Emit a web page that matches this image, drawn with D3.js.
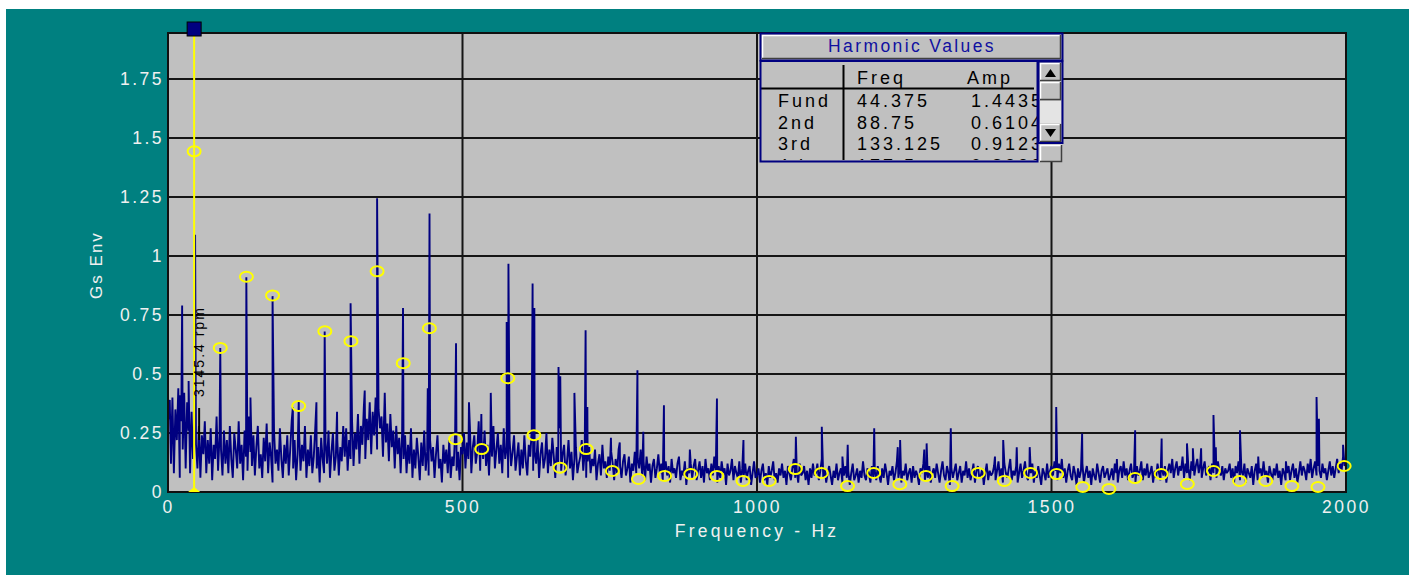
<!DOCTYPE html>
<html>
<head>
<meta charset="utf-8">
<script src="https://cdn.jsdelivr.net/npm/d3@7"></script>
<style>
  body { margin: 0; background: #ffffff; }
  svg { display: block; }
  text { font-family: "Liberation Sans", Arial, sans-serif; }
</style>
</head>
<body>
<div id="chart"></div>
<script>
// ---- data ----
const fundamental_hz = 44.375;
const harmonic_amps = [
  1.4435, 0.6104, 0.9123, 0.833, 0.364, 0.681, 0.639, 0.935, 0.546, 0.694,
  0.224, 0.182, 0.482, 0.241, 0.103, 0.182, 0.089, 0.055, 0.068, 0.076,
  0.068, 0.047, 0.047, 0.097, 0.081, 0.025, 0.081, 0.033, 0.068, 0.025,
  0.081, 0.047, 0.081, 0.076, 0.021, 0.013, 0.059, 0.076, 0.034, 0.089,
  0.047, 0.047, 0.025, 0.021, 0.110
];

// tall lines standing out of the floor: [Hz, g]
const spikes = [
  [3, 0.39], [20, 0.41], [24, 0.79], [35, 0.47], [46, 1.09], [88.75, 0.61], [133, 0.91],
  [140, 0.40], [177.5, 0.83], [212, 0.36], [222, 0.39], [252, 0.38], [266, 0.68], [287, 0.34],
  [310, 0.80], [334, 0.43], [355, 1.245], [368, 0.42], [399, 0.78], [441, 0.44], [444, 1.18],
  [489, 0.63], [511, 0.38], [532, 0.33], [548, 0.42], [575, 0.72], [578, 0.967], [619, 0.883],
  [622, 0.78], [663, 0.53], [666, 0.49], [690, 0.42], [709, 0.685], [712, 0.36], [752, 0.23],
  [767, 0.21], [797, 0.516], [807, 0.255], [842, 0.368], [886, 0.18], [932, 0.396], [977, 0.22],
  [1066, 0.234], [1110, 0.276], [1145, 0.15], [1154, 0.20], [1199, 0.27], [1239, 0.19],
  [1243, 0.22], [1284, 0.18], [1288, 0.206], [1329, 0.27], [1404, 0.15], [1418, 0.22],
  [1441, 0.19], [1463, 0.19], [1508, 0.36], [1552, 0.248], [1611, 0.14], [1642, 0.262],
  [1687, 0.227], [1730, 0.206], [1740, 0.185], [1754, 0.185], [1775, 0.326], [1779, 0.19],
  [1820, 0.262], [1851, 0.15], [1898, 0.13], [1950, 0.403], [1954, 0.31], [1995, 0.20]
];

// noise floor, one row per 100 Hz, 2.5 Hz apart, in hundredths of g
const noise_step = 2.5;
const noise_rows = [
  [30,38,12,40,8,35,22,44,6,30,18,42,10,38,26,8,34,14,30,20,10,28,6,24,16,30,8,22,12,27,5,20,14,32,9,24,18,7,26,12],
  [22,8,28,14,6,25,18,10,30,12,20,5,26,15,9,32,17,11,24,7,19,28,10,16,6,23,13,29,8,21,15,4,26,12,18,9,27,14,6,20],
  [12,24,7,18,30,10,22,5,16,26,9,20,13,28,6,18,11,24,8,15,27,10,19,4,23,14,8,21,12,26,6,17,25,9,15,22,7,19,13,28],
  [15,27,9,22,14,30,11,25,18,33,12,28,20,36,14,31,22,38,16,34,24,40,18,35,27,32,15,37,21,29,13,33,19,26,10,28,16,23,8,25],
  [14,24,8,20,12,27,6,18,10,23,15,5,21,11,26,9,17,7,22,13,19,6,16,24,10,14,4,20,12,18,8,22,6,15,11,25,9,17,5,19],
  [16,25,10,21,14,28,8,19,24,12,17,30,9,22,14,26,11,20,7,23,15,28,10,18,25,12,20,8,27,14,19,6,22,11,17,24,9,15,21,7],
  [18,10,24,13,7,20,15,26,9,17,12,22,6,16,21,10,14,25,8,18,11,23,15,6,19,12,27,9,16,20,7,13,22,10,17,5,14,19,8,12],
  [15,22,9,17,6,13,19,8,14,11,18,5,12,16,7,20,10,13,6,15,9,17,12,5,14,8,18,11,6,13,16,7,10,15,4,12,9,17,8,14],
  [10,18,7,13,5,15,9,12,4,11,14,6,10,16,8,12,5,9,13,7,11,4,14,8,10,6,12,15,5,9,7,13,3,10,8,12,6,11,14,5],
  [9,13,6,11,4,14,8,10,5,12,7,15,9,4,11,6,13,8,10,3,12,7,9,14,5,11,8,6,13,4,10,7,12,5,9,11,3,8,13,6],
  [7,10,4,9,12,5,8,3,11,6,9,13,5,8,4,10,7,12,6,9,3,11,8,5,10,14,6,9,4,12,7,8,11,5,9,3,10,6,12,7],
  [8,12,5,9,14,6,10,4,8,11,7,3,9,6,12,5,8,10,4,7,11,6,9,3,8,12,5,7,10,4,9,6,13,7,5,10,8,4,11,6],
  [9,5,11,7,4,10,6,12,8,3,9,7,11,5,8,13,6,10,4,9,7,12,5,8,10,4,11,6,9,7,3,10,8,12,5,9,6,11,4,8],
  [10,6,12,8,4,9,13,7,5,11,8,3,10,6,9,12,5,8,11,4,9,7,13,6,10,5,8,12,4,9,11,6,7,10,3,8,12,5,9,7],
  [8,11,5,9,13,6,10,4,12,8,6,10,14,5,9,7,11,4,8,12,6,9,13,7,5,10,8,12,4,9,6,11,7,3,10,8,5,12,6,9],
  [11,7,13,9,5,12,8,14,6,10,4,9,12,7,5,11,8,3,10,6,9,12,4,8,11,6,9,3,10,7,5,12,8,4,9,11,6,8,10,5],
  [7,10,5,12,8,4,9,11,6,13,7,10,5,9,12,6,8,4,11,7,9,13,5,10,7,12,6,8,11,4,9,6,12,8,5,10,7,11,4,9],
  [12,8,14,6,10,13,7,11,9,15,6,12,8,10,5,13,9,7,11,14,8,12,6,10,13,7,9,11,5,12,8,10,6,13,9,7,11,5,10,8],
  [9,12,6,10,4,11,8,13,5,9,7,12,4,10,8,6,11,3,9,12,5,8,10,6,13,7,9,4,11,8,5,10,7,12,6,9,3,10,8,5],
  [8,11,5,9,12,6,10,4,8,13,7,11,9,5,12,8,14,6,10,13,7,11,9,6,12,8,10,5,9,13,7,11,6,10,14,8,12,9,15,11,13]
];

const x_ticks = [0, 500, 1000, 1500, 2000];
const y_ticks = [0, 0.25, 0.5, 0.75, 1, 1.25, 1.5, 1.75];
const y_tick_labels = ["0", "0.25", "0.5", "0.75", "1", "1.25", "1.5", "1.75"];
const table_labels = ["Fund", "2nd", "3rd", "4th"];
const table_freqs = ["44.375", "88.75", "133.125", "177.5"];
const table_amps = ["1.4435", "0.6104", "0.9123", "0.8332"];
const cursor_label = "3145.4 rpm";

// ---- layout ----
const width = 1409;
const height = 575;
const plot = {left: 168, right: 1346, top: 33, bottom: 492};

const x = d3.scaleLinear().domain([0, 2000]).range([plot.left, plot.right]);
const y = d3.scaleLinear().domain([0, 1.945]).range([plot.bottom, plot.top]);

const svg = d3.select("#chart").append("svg")
    .attr("width", width)
    .attr("height", height);

svg.append("rect")
    .attr("x", 6).attr("y", 9)
    .attr("width", width - 6).attr("height", height - 9)
    .attr("fill", "#008080");

svg.append("rect")
    .attr("x", plot.left).attr("y", plot.top)
    .attr("width", plot.right - plot.left).attr("height", plot.bottom - plot.top)
    .attr("fill", "#c0c0c0");

// grid
svg.append("g")
    .selectAll("line")
    .data(y_ticks.slice(1))
    .join("line")
    .attr("x1", plot.left).attr("x2", plot.right)
    .attr("y1", d => y(d)).attr("y2", d => y(d))
    .attr("stroke", "#151515").attr("stroke-width", 2);

svg.append("g")
    .selectAll("line")
    .data(x_ticks.slice(1, -1))
    .join("line")
    .attr("x1", d => x(d)).attr("x2", d => x(d))
    .attr("y1", plot.top).attr("y2", plot.bottom)
    .attr("stroke", "#151515").attr("stroke-width", 2);

svg.append("defs").append("clipPath").attr("id", "plot-clip")
    .append("rect")
    .attr("x", plot.left).attr("y", plot.top)
    .attr("width", plot.right - plot.left).attr("height", plot.bottom - plot.top);

// spectrum
const floor_points = noise_rows.flat().map((v, i) => ({f: i * noise_step, a: v / 100}));
const spike_points = spikes.map(d => ({f: d[0], a: d[1]}));
const spectrum = floor_points.concat(spike_points).sort((a, b) => a.f - b.f);

svg.append("path")
    .datum(spectrum)
    .attr("clip-path", "url(#plot-clip)")
    .attr("fill", "none")
    .attr("stroke", "#000080")
    .attr("stroke-width", 1.9)
    .attr("stroke-linejoin", "bevel")
    .attr("d", d3.line().x(d => x(d.f)).y(d => y(d.a)));

// plot frame
svg.append("rect")
    .attr("x", plot.left).attr("y", plot.top)
    .attr("width", plot.right - plot.left).attr("height", plot.bottom - plot.top)
    .attr("fill", "none").attr("stroke", "#101010").attr("stroke-width", 2);

// harmonic markers
svg.append("g")
    .selectAll("ellipse")
    .data(harmonic_amps)
    .join("ellipse")
    .attr("cx", (d, i) => x((i + 1) * fundamental_hz))
    .attr("cy", d => y(d))
    .attr("rx", 6.5).attr("ry", 5)
    .attr("fill", "none")
    .attr("stroke", "#ffff00")
    .attr("stroke-width", 2);

// cursor
const cx = x(fundamental_hz);
svg.append("line")
    .attr("x1", cx).attr("x2", cx)
    .attr("y1", 30).attr("y2", plot.bottom)
    .attr("stroke", "#ffff00").attr("stroke-width", 2);
svg.append("path")
    .attr("d", `M${cx - 6},${plot.bottom}L${cx},${plot.bottom - 5}L${cx + 6},${plot.bottom}Z`)
    .attr("fill", "#ffff00");
svg.append("rect")
    .attr("x", cx - 7).attr("y", 22)
    .attr("width", 14).attr("height", 14)
    .attr("fill", "#000080").attr("stroke", "#000").attr("stroke-width", 1);
svg.append("text")
    .attr("transform", `translate(${cx + 10},397) rotate(-90)`)
    .attr("font-size", 14)
    .attr("letter-spacing", "2px")
    .attr("fill", "#000")
    .text(cursor_label);
svg.append("line")
    .attr("x1", cx + 5).attr("x2", cx + 5)
    .attr("y1", 408).attr("y2", 440)
    .attr("stroke", "#000").attr("stroke-width", 2);

// axes
const y_axis = svg.append("g")
    .attr("transform", `translate(${plot.left},0)`)
    .call(d3.axisLeft(y).tickValues(y_ticks).tickFormat((d, i) => y_tick_labels[i]).tickSize(0).tickPadding(4));
const x_axis = svg.append("g")
    .attr("transform", `translate(0,${plot.bottom})`)
    .call(d3.axisBottom(x).tickValues(x_ticks).tickFormat(d3.format("d")).tickSize(0).tickPadding(9));

[y_axis, x_axis].forEach(g => {
    g.select(".domain").remove();
    g.selectAll("text")
        .attr("fill", "#f0f0f0")
        .attr("font-size", 17.5)
        .attr("font-family", "Liberation Sans, Arial, sans-serif")
        .attr("letter-spacing", "2.5px");
});

svg.append("text")
    .attr("x", 757).attr("y", 537)
    .attr("text-anchor", "middle")
    .attr("fill", "#f0f0f0")
    .attr("font-size", 17.5)
    .attr("letter-spacing", "3.2px")
    .text("Frequency - Hz");

svg.append("text")
    .attr("transform", "translate(102,265) rotate(-90)")
    .attr("text-anchor", "middle")
    .attr("fill", "#f0f0f0")
    .attr("font-size", 17)
    .attr("letter-spacing", "2px")
    .text("Gs Env");

// ---- harmonic values box ----
function bevel(g, bx, by, bw, bh) {
    g.append("rect").attr("x", bx).attr("y", by).attr("width", bw).attr("height", bh).attr("fill", "#c0c0c0");
    g.append("path").attr("d", `M${bx + 0.5},${by + bh}V${by + 0.5}H${bx + bw}`)
        .attr("fill", "none").attr("stroke", "#ffffff").attr("stroke-width", 1.5);
    g.append("path").attr("d", `M${bx},${by + bh - 0.5}H${bx + bw - 0.5}V${by}`)
        .attr("fill", "none").attr("stroke", "#404040").attr("stroke-width", 1.5);
}

const box = svg.append("g");
box.append("rect").attr("x", 760).attr("y", 33).attr("width", 303).attr("height", 129).attr("fill", "#c0c0c0");

// title bar
bevel(box, 762, 35, 299, 24);
box.append("rect").attr("x", 760.5).attr("y", 33.5).attr("width", 302).attr("height", 27)
    .attr("fill", "none").attr("stroke", "#000080").attr("stroke-width", 2);
box.append("text")
    .attr("x", 912).attr("y", 52)
    .attr("text-anchor", "middle")
    .attr("fill", "#1010a0")
    .attr("font-size", 17.5)
    .attr("letter-spacing", "2.4px")
    .text("Harmonic Values");

// table
svg.append("defs").append("clipPath").attr("id", "table-clip")
    .append("rect").attr("x", 761).attr("y", 62).attr("width", 276).attr("height", 98);

const table = box.append("g").attr("clip-path", "url(#table-clip)");
table.append("line").attr("x1", 760).attr("x2", 1034).attr("y1", 88.5).attr("y2", 88.5)
    .attr("stroke", "#000").attr("stroke-width", 2);
table.append("line").attr("x1", 843.5).attr("x2", 843.5).attr("y1", 65).attr("y2", 162)
    .attr("stroke", "#000").attr("stroke-width", 2);

const cell_font = 18;
const cell_spacing = "3px";
table.append("text").attr("x", 857).attr("y", 84).attr("font-size", cell_font)
    .attr("letter-spacing", cell_spacing).text("Freq");
table.append("text").attr("x", 967).attr("y", 84).attr("font-size", cell_font)
    .attr("letter-spacing", cell_spacing).text("Amp");

const row = table.selectAll("g.row")
    .data(table_labels)
    .join("g")
    .attr("class", "row")
    .attr("transform", (d, i) => `translate(0,${107 + i * 21.5})`);
row.append("text").attr("x", 778).attr("font-size", cell_font).attr("letter-spacing", cell_spacing).text(d => d);
row.append("text").attr("x", 857).attr("font-size", cell_font).attr("letter-spacing", cell_spacing).text((d, i) => table_freqs[i]);
row.append("text").attr("x", 971).attr("font-size", cell_font).attr("letter-spacing", cell_spacing).text((d, i) => table_amps[i]);

box.append("rect").attr("x", 760.5).attr("y", 61).attr("width", 277).attr("height", 100.5)
    .attr("fill", "none").attr("stroke", "#000080").attr("stroke-width", 2);

// scrollbar
const sb = box.append("g");
sb.append("rect").attr("x", 1038).attr("y", 61).attr("width", 25).attr("height", 82).attr("fill", "#c0c0c0");
sb.append("rect").attr("x", 1040).attr("y", 101).attr("width", 21).attr("height", 22).attr("fill", "#e4e4e4");
bevel(sb, 1040, 63, 21, 18);
bevel(sb, 1040, 82, 21, 18);
bevel(sb, 1040, 124, 21, 18);
sb.append("path").attr("d", "M1045,77L1050.5,69L1056,77Z").attr("fill", "#000");
sb.append("path").attr("d", "M1045,129L1050.5,137L1056,129Z").attr("fill", "#000");
sb.append("rect").attr("x", 1038.5).attr("y", 61.5).attr("width", 24).attr("height", 81.5)
    .attr("fill", "none").attr("stroke", "#000080").attr("stroke-width", 2);
bevel(sb, 1040, 145, 22, 17);
</script>
</body>
</html>
